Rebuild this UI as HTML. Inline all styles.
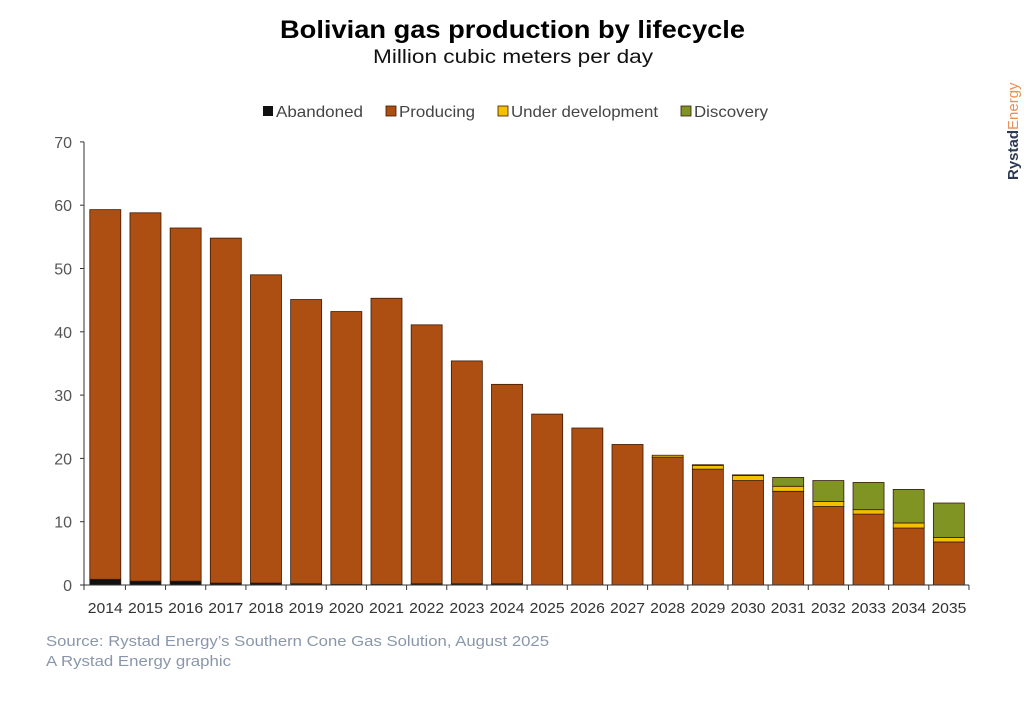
<!DOCTYPE html>
<html><head><meta charset="utf-8">
<style>
body{margin:0;background:#fff;width:1024px;height:707px;overflow:hidden}
svg{display:block;font-family:"Liberation Sans",sans-serif}
</style></head><body>
<svg id="s" width="1024" height="707" xmlns="http://www.w3.org/2000/svg">
<text x="280" y="38" font-size="25" font-weight="bold" fill="#000" textLength="465" lengthAdjust="spacingAndGlyphs">Bolivian gas production by lifecycle</text>
<text x="373" y="63" font-size="19" fill="#111" textLength="280" lengthAdjust="spacingAndGlyphs">Million cubic meters per day</text>
<g font-size="16" fill="#444">
<rect x="263" y="106" width="10" height="10" fill="#111"/><text x="276" y="117" textLength="87" lengthAdjust="spacingAndGlyphs">Abandoned</text>
<rect x="386" y="106" width="10" height="10" fill="#ad4f12" stroke="#3a1a05" stroke-width="0.8"/><text x="399" y="117" textLength="76" lengthAdjust="spacingAndGlyphs">Producing</text>
<rect x="498" y="106" width="10" height="10" fill="#f5c000" stroke="#3a1a05" stroke-width="0.8"/><text x="511" y="117" textLength="147" lengthAdjust="spacingAndGlyphs">Under development</text>
<rect x="681" y="106" width="10" height="10" fill="#7f9423" stroke="#3a1a05" stroke-width="0.8"/><text x="694" y="117" textLength="74" lengthAdjust="spacingAndGlyphs">Discovery</text>
</g>
<g id="ax"></g>
<text x="46" y="646" font-size="15" fill="#8a97ab" textLength="503" lengthAdjust="spacingAndGlyphs">Source: Rystad Energy’s Southern Cone Gas Solution, August 2025</text>
<text x="46" y="666" font-size="15" fill="#8a97ab" textLength="185" lengthAdjust="spacingAndGlyphs">A Rystad Energy graphic</text>
<text transform="translate(1018,180) rotate(-90)" font-size="15" font-weight="bold" fill="#2c3a55">Rystad<tspan font-weight="normal" fill="#e8915a">Energy</tspan></text>
</svg>
<script>
const g=document.getElementById('ax');const NS='http://www.w3.org/2000/svg';
function el(t,a,txt){const e=document.createElementNS(NS,t);for(const k in a)e.setAttribute(k,a[k]);if(txt!=null)e.textContent=txt;g.appendChild(e);return e;}
const Y=v=>585-v*6.33;
el('line',{x1:84,y1:142,x2:84,y2:585,stroke:'#333','stroke-width':1});
for(let v=0;v<=70;v+=10){el('line',{x1:80,y1:Y(v),x2:84,y2:Y(v),stroke:'#333'});el('text',{x:72,y:Y(v)+6,'text-anchor':'end','font-size':16,fill:'#555'},v);}
const d=[[0.9,58.4,0,0],[0.6,58.2,0,0],[0.6,55.8,0,0],[0.3,54.5,0,0],[0.3,48.7,0,0],[0.2,44.9,0,0],[0.1,43.1,0,0],[0.1,45.2,0,0],[0.2,40.9,0,0],[0.2,35.2,0,0],[0.2,31.5,0,0],[0,27.0,0,0],[0,24.8,0,0],[0,22.2,0,0],[0,20.2,0.3,0],[0,18.3,0.6,0.1],[0,16.5,0.8,0.1],[0,14.8,0.8,1.4],[0,12.4,0.8,3.3],[0,11.2,0.7,4.3],[0,9.0,0.8,5.3],[0,6.8,0.7,5.45]];
const cols=['#111','#ad4f12','#f5c000','#7f9423'];
d.forEach((r,i)=>{const cx=105.3+i*40.17,x=cx-15.5;let b=0;
 r.forEach((v,j)=>{if(v<=0)return;el('rect',{x:x,y:Y(b+v),width:31,height:v*6.33,fill:cols[j],stroke:'#3a1a05','stroke-width':0.8});b+=v;});
 el('text',{x:cx-17.5,y:613,'font-size':15,fill:'#333',textLength:35,lengthAdjust:'spacingAndGlyphs'},2014+i);
 el('line',{x1:cx+20.1,y1:585,x2:cx+20.1,y2:590,stroke:'#333'});
});
el('line',{x1:84,y1:585,x2:969,y2:585,stroke:'#333','stroke-width':1});
el('line',{x1:84,y1:585,x2:84,y2:590,stroke:'#333'});
</script>
</body></html>
